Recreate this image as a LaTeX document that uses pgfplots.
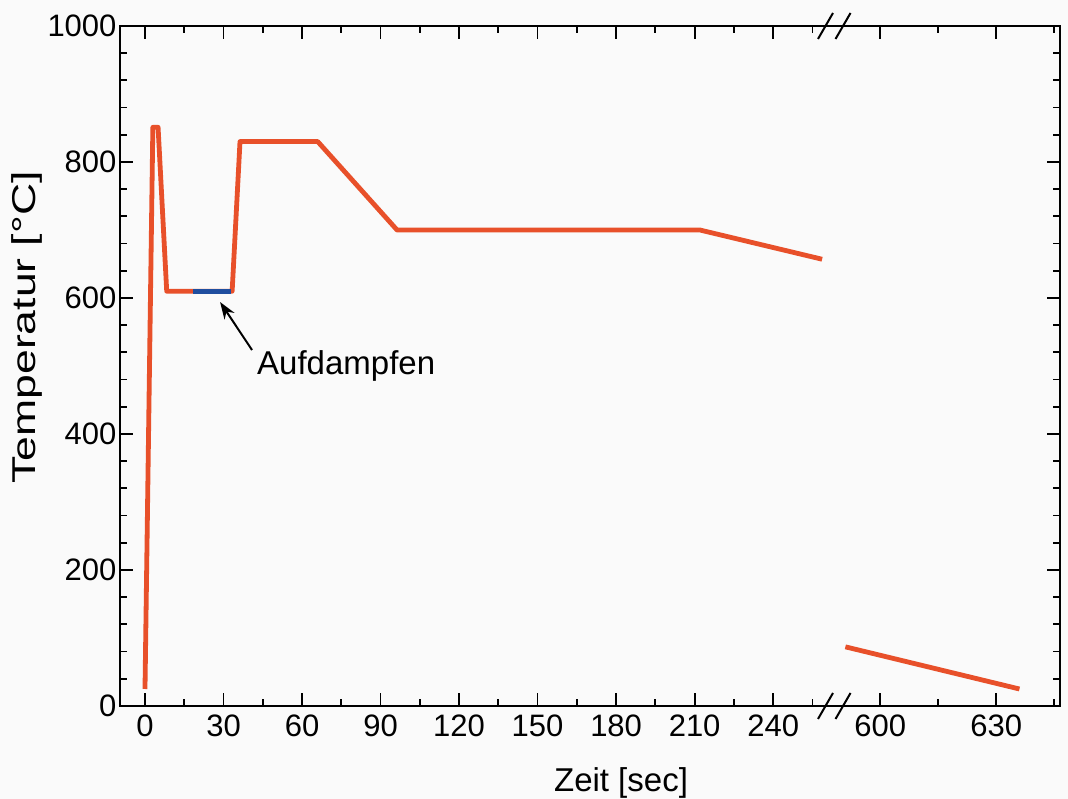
\documentclass[border=0pt]{standalone}
\usepackage{pgfplots}
\pgfplotsset{compat=1.18}
\usepackage{fontspec}
\setmainfont{Liberation Sans}
\usepackage{graphicx}
\usetikzlibrary{calc,arrows.meta}
\definecolor{curve}{HTML}{E8502A}
\definecolor{depo}{HTML}{1F4E9F}
\definecolor{bg}{HTML}{FAFAFA}
\pagecolor{bg}
% x positions after the axis break: u = 280.9 + (t-600)*1.478
\begin{document}
\begin{tikzpicture}
\begin{axis}[
  name=ax,
  scale only axis,
  width=940pt, height=680pt,
  xmin=-9.55, xmax=349.6,
  ymin=0, ymax=1000,
  xtick={0,30,60,90,120,150,180,210,240,280.9,325.2},
  xticklabels={0,30,60,90,120,150,180,210,240,600,630},
  minor xtick={15,45,75,105,135,165,195,225,255,303.1,347.4},
  ytick={0,200,400,600,800,1000},
  yticklabels={0,200,400,600,800,1000},
  minor y tick num=4,
  tick align=inside,
  major tick length=13pt,
  minor tick length=7pt,
  every tick/.style={black, line width=1.8pt},
  axis line style={line width=2.2pt},
  /pgf/number format/assume math mode=true,
  /pgf/number format/1000 sep={},
  xticklabel style={font=\fontsize{31}{36}\selectfont, yshift=-5pt},
  yticklabel style={font=\fontsize{31}{36}\selectfont, xshift=0pt},
  label style={font=\fontsize{33}{38}\selectfont},
  xlabel={Zeit [sec]},
  ylabel={\scalebox{1.35}[1]{Temperatur [°C]}},
  xlabel style={at={(axis description cs:0.533,-0.126)}, anchor=base},
  ylabel style={at={(axis description cs:-0.0904,0.5566)}, anchor=base},
  clip=false,
]
\addplot[curve, line width=4.8pt, line join=round] coordinates {
  (0,25) (3,851) (5,851) (8.3,610) (18.5,610) (33.3,610) (36.3,830)
  (66,830) (96.3,700) (212,700) (258.7,657)
};
% t = 591 s -> 267.6 ; t = 636 s -> 334.1
\addplot[curve, line width=4.8pt] coordinates {(267.6,87) (334.1,25)};
\addplot[depo, line width=4.8pt] coordinates {(18.5,610) (32.8,610)};
\node[anchor=base west, font=\fontsize{33}{38}\selectfont, inner sep=0pt] at (axis cs:42.8,486.8) {Aufdampfen};
\draw[-{Stealth[length=17pt,width=12pt]}, line width=2pt] (axis cs:40.9,523.5) -- (axis cs:28.7,594);
\draw[line width=2pt] ([xshift=-7.5pt,yshift=-13pt]axis cs:260.0,0) -- ++(15pt,26pt);
\draw[line width=2pt] ([xshift=-7.5pt,yshift=-13pt]axis cs:266.7,0) -- ++(15pt,26pt);
\draw[line width=2pt] ([xshift=-7.5pt,yshift=-13pt]axis cs:260.0,1000) -- ++(15pt,26pt);
\draw[line width=2pt] ([xshift=-7.5pt,yshift=-13pt]axis cs:266.7,1000) -- ++(15pt,26pt);
\end{axis}
\pgfresetboundingbox
\path ($(ax.south west)+(-120pt,-93pt)$) rectangle ($(ax.north east)+(8pt,26pt)$);
\end{tikzpicture}
\end{document}
